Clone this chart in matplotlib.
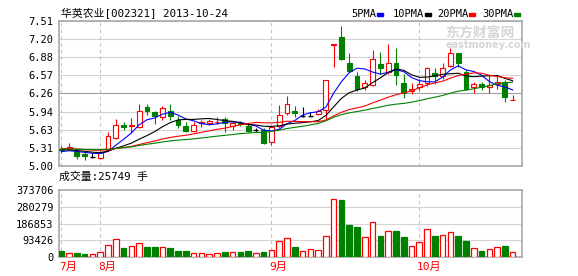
import numpy as np
import pandas as pd
import matplotlib
matplotlib.use('Agg')
import matplotlib.pyplot as plt
from matplotlib.patches import Rectangle
from matplotlib.transforms import blended_transform_factory

W, H = 578, 276

title = '华英农业[002321] 2013-10-24'
vol_title = '成交量:25749 手'
month_labels = ['7月', '8月', '9月', '10月']
month_start = [0, 5, 27, 46]

price_ticks = [5.00, 5.31, 5.63, 5.94, 6.26, 6.57, 6.88, 7.20, 7.51]
vol_ticks = [0, 93426, 186853, 280279, 373706]

# closes before the window (only feed the moving averages on the left)
pre_closes = [5.22, 5.25, 5.30, 5.28, 5.24, 5.26, 5.29, 5.31, 5.27, 5.28,
              5.30, 5.34, 5.36, 5.33, 5.29, 5.31, 5.35, 5.32, 5.30, 5.30,
              5.33, 5.30, 5.29, 5.32, 5.31, 5.26, 5.23, 5.25, 5.24]

opens = [5.30, 5.29, 5.25, 5.20, 5.16, 5.14, 5.28, 5.48, 5.71, 5.69,
         5.68, 6.02, 5.94, 5.85, 5.96, 5.80, 5.69, 5.60, 5.74, 5.74,
         5.76, 5.81, 5.69, 5.75, 5.69, 5.62, 5.63, 5.42, 5.69, 5.91,
         5.96, 5.87, 5.87, 5.90, 5.97, 7.10, 7.24, 6.79, 6.56, 6.37,
         6.40, 6.77, 6.62, 6.79, 6.44, 6.30, 6.36, 6.43, 6.61, 6.56,
         6.73, 6.95, 6.63, 6.36, 6.42, 6.36, 6.42, 6.46, 6.14]
highs = [5.35, 5.40, 5.29, 5.25, 5.22, 5.26, 5.58, 5.81, 5.77, 5.83,
         6.08, 6.08, 5.96, 6.04, 6.08, 5.87, 5.77, 5.77, 5.80, 5.81,
         5.85, 5.85, 5.78, 5.78, 5.72, 5.65, 5.65, 5.69, 6.05, 6.22,
         6.04, 6.02, 5.93, 5.98, 6.49, 7.12, 7.42, 6.95, 6.63, 6.49,
         7.00, 6.98, 7.12, 7.04, 6.60, 6.43, 6.50, 6.72, 6.69, 6.79,
         7.04, 6.96, 6.66, 6.46, 6.46, 6.57, 6.57, 6.49, 6.23]
lows = [5.23, 5.27, 5.12, 5.10, 5.13, 5.12, 5.26, 5.46, 5.62, 5.57,
        5.66, 5.88, 5.72, 5.80, 5.80, 5.66, 5.58, 5.58, 5.68, 5.71,
        5.73, 5.58, 5.62, 5.70, 5.58, 5.59, 5.38, 5.37, 5.65, 5.88,
        5.85, 5.85, 5.85, 5.88, 5.81, 6.72, 6.84, 6.62, 6.30, 6.32,
        6.38, 6.60, 6.60, 6.40, 6.17, 6.25, 6.32, 6.38, 6.42, 6.50,
        6.72, 6.72, 6.31, 6.26, 6.32, 6.27, 6.34, 6.11, 6.14]
closes = [5.27, 5.33, 5.17, 5.17, 5.16, 5.24, 5.52, 5.71, 5.68, 5.71,
          5.95, 5.95, 5.87, 6.01, 5.87, 5.71, 5.61, 5.71, 5.77, 5.78,
          5.77, 5.75, 5.75, 5.73, 5.61, 5.62, 5.40, 5.67, 5.88, 6.08,
          5.91, 5.87, 5.87, 5.96, 6.49, 7.12, 6.86, 6.65, 6.34, 6.43,
          6.85, 6.69, 6.79, 6.57, 6.27, 6.34, 6.42, 6.69, 6.56, 6.69,
          6.95, 6.78, 6.34, 6.42, 6.37, 6.40, 6.46, 6.20, 6.15]
volumes = [31600, 22300, 24000, 18600, 18600, 30000, 67000, 100000, 52000, 61000,
           78000, 57600, 57600, 56000, 52000, 35000, 35000, 22300, 22300, 16700,
           22300, 30000, 30000, 30000, 35000, 22300, 30000, 39000, 89000, 106000,
           57600, 33000, 44000, 38500, 115000, 324000, 320600, 177700, 166700, 110000,
           198000, 117000, 143000, 143000, 112000, 60000, 84000, 154000, 117000, 121000,
           139000, 117000, 90000, 49500, 35000, 44000, 55000, 62000, 25749]

RED = '#ff0000'
GREEN = '#008000'
CJK = ['DejaVu Sans Mono', 'Noto Sans CJK SC']

df = pd.DataFrame({'open': opens, 'high': highs, 'low': lows,
                   'close': closes, 'vol': volumes})
x = np.arange(len(df))
all_close = pd.Series(pre_closes + closes)
mas = {n: all_close.rolling(n).mean().iloc[len(pre_closes):].values
       for n in (5, 10, 20, 30)}

up = df['close'] > df['open']
down = df['close'] < df['open']
flat = df['close'] == df['open']

fig = plt.figure(figsize=(W / 100, H / 100), dpi=100)
ax = fig.add_axes([59 / W, 1 - 166 / H, 463 / W, 145 / H])
ax2 = fig.add_axes([59 / W, 1 - 257 / H, 463 / W, 67 / H])

for a in (ax, ax2):
    a.set_xlim(-0.3, 59.2)
    for s in a.spines.values():
        s.set_color('#a8a8a8')
        s.set_linewidth(1.2)
    a.tick_params(length=0, labelsize=7.5, pad=4)
    a.set_xticks([])
    for m in month_start:
        a.axvline(m, color='#c4c4c4', ls=(0, (3, 3)), lw=0.8, zorder=1)

# price panel
ax.set_ylim(5.00, 7.51)
ax.set_yticks(price_ticks)
ax.set_yticklabels(['%.2f' % t for t in price_ticks], family='DejaVu Sans Mono')
for t in price_ticks:
    ax.axhline(t, color='#a0a0a0' if t == 6.26 else '#d4d4d4', lw=0.8, zorder=0)

bw = 0.62
c = np.where(up, RED, np.where(down, GREEN, 'black'))
ax.vlines(x[up], df['low'][up], df['open'][up], color=RED, lw=0.8, zorder=2)
ax.vlines(x[up], df['close'][up], df['high'][up], color=RED, lw=0.8, zorder=2)
ax.vlines(x[~up], df['low'][~up], df['high'][~up], color=c[~up], lw=0.8, zorder=2)
ax.bar(x[up], (df['close'] - df['open'])[up], bw, bottom=df['open'][up],
       facecolor='white', edgecolor=RED, lw=0.8, zorder=3)
ax.bar(x[down], (df['close'] - df['open'])[down], bw, bottom=df['open'][down],
       facecolor=GREEN, edgecolor=GREEN, lw=0.8, zorder=3)
ax.hlines(df['close'][flat], x[flat] - bw / 2, x[flat] + bw / 2,
          color='black', lw=1, zorder=3)

for n, col in zip((5, 10, 20, 30), ('#0000ff', 'black', RED, GREEN)):
    ax.plot(x, mas[n], color=col, lw=0.8, zorder=4)

# volume panel
ax2.set_ylim(0, 373706)
ax2.set_yticks(vol_ticks)
ax2.set_yticklabels([str(v) for v in vol_ticks], family='DejaVu Sans Mono')
for v in vol_ticks[1:-1]:
    ax2.axhline(v, color='#d4d4d4', lw=0.8, zorder=0)
vup = df['close'] >= df['open']
ax2.bar(x[vup], df['vol'][vup], 0.72, facecolor='white', edgecolor=RED,
        lw=0.9, zorder=3)
ax2.bar(x[~vup], df['vol'][~vup], 0.72, facecolor=GREEN, edgecolor=GREEN,
        lw=0.9, zorder=3)

tr = blended_transform_factory(ax2.transData, ax2.transAxes)
for m, lab in zip(month_start, month_labels):
    ax2.text(m - 0.3, -0.15, lab, transform=tr, ha='left', va='center',
             color=RED, fontsize=8, family=CJK)

# texts
fig.text(61 / W, 1 - 13.5 / H, title, va='center', fontsize=7.8, family=CJK)
fig.text(59 / W, 1 - 177 / H, vol_title, va='center', fontsize=7.8, family=CJK)

legend = [('5PMA', 351, '#0000ff'), ('10PMA', 393, 'black'),
          ('20PMA', 437, RED), ('30PMA', 482, GREEN)]
for lab, px, col in legend:
    fig.text(px / W, 1 - 14 / H, lab, va='center', fontsize=7.5,
             family='DejaVu Sans Mono')
    wpx = len(lab) * 6.0
    fig.add_artist(Rectangle(((px + wpx + 2) / W, 1 - 16 / H), 6 / W, 3 / H,
                             color=col, transform=fig.transFigure))

fig.text(445 / W, 1 - 33 / H, '东方财富网', color='#d6d6d6', fontsize=10,
         weight='bold', va='center', family=['Noto Sans CJK SC'])
fig.text(446 / W, 1 - 45 / H, 'eastmoney.com', color='#d6d6d6', fontsize=7,
         weight='bold', va='center', family=['DejaVu Sans'])

fig.savefig('out.png', dpi=100)
